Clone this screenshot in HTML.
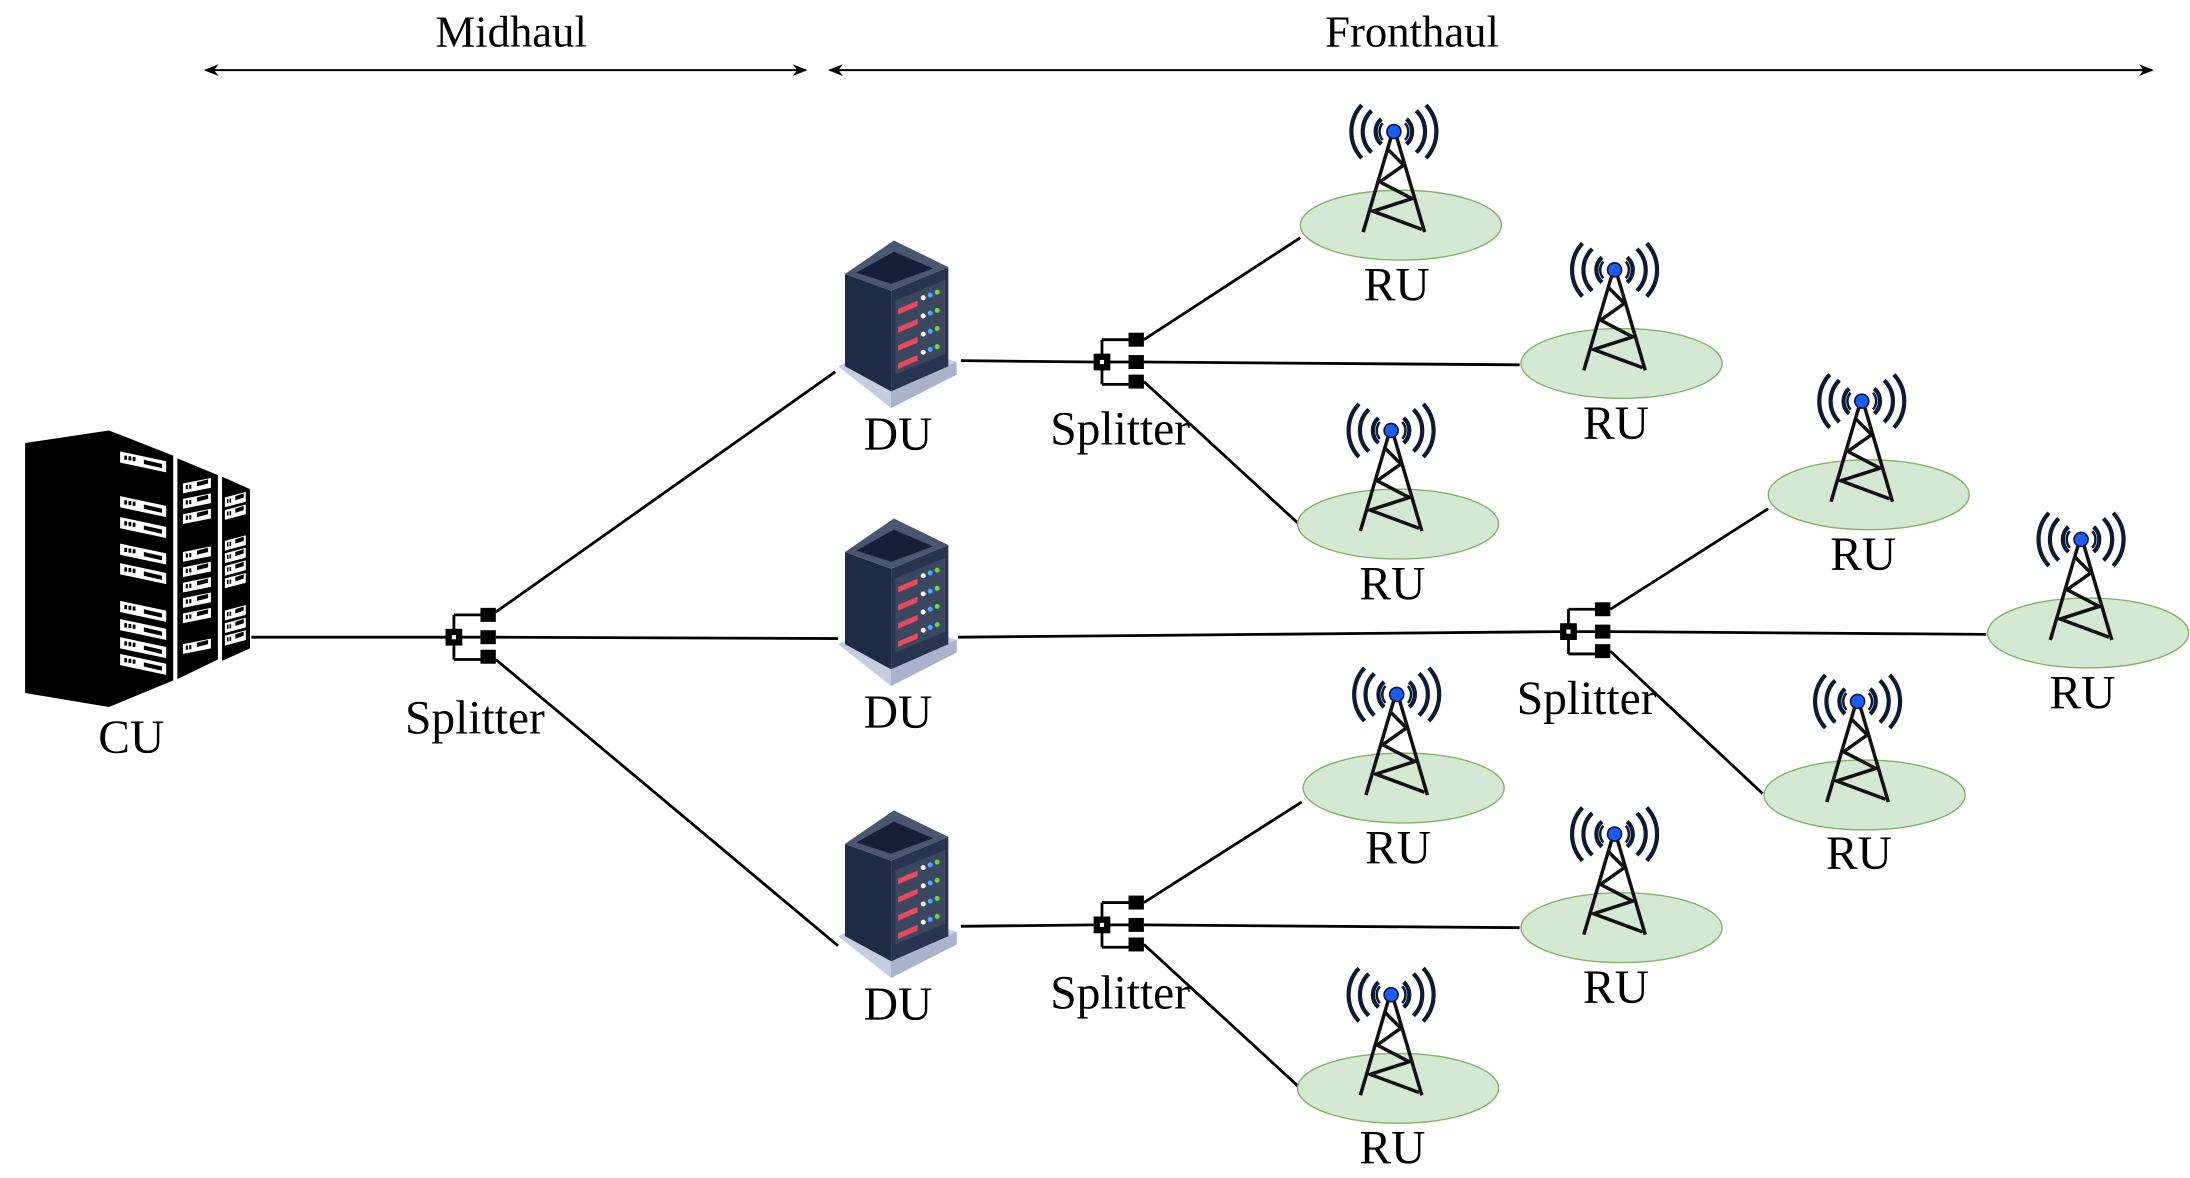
<!DOCTYPE html>
<html><head><meta charset="utf-8"><style>html,body{margin:0;padding:0;background:#fff}svg{display:block}</style></head><body>
<svg width="2190" height="1178" viewBox="0 0 1568 843" xmlns="http://www.w3.org/2000/svg" font-family="Liberation Serif, serif">
<defs>
<marker id="ah" viewBox="0 0 10 10" refX="9" refY="5" markerWidth="7" markerHeight="7" orient="auto-start-reverse"><path d="M0,1 L10,5 L0,9 L3,5 Z" fill="#000"/></marker>
<g id="tower">
 <ellipse cx="5" cy="67" rx="72" ry="25" fill="#d5e8d4" stroke="#82b366" stroke-width="1"/>
 <g fill="none" stroke="#0d1a33" stroke-width="3">
  <path d="M-9,-9 A12,12 0 0 0 -9,9"/><path d="M9,-9 A12,12 0 0 1 9,9"/>
  <path d="M-16,-15 A21,21 0 0 0 -16,15"/><path d="M16,-15 A21,21 0 0 1 16,15"/>
  <path d="M-23,-19 A28,28 0 0 0 -23,19"/><path d="M23,-19 A28,28 0 0 1 23,19"/>
 </g>
 <g fill="none" stroke="#0d1a33" stroke-width="1.8">
  <path d="M-8,-6 A9,9 0 0 0 -8,6"/><path d="M8,-6 A9,9 0 0 1 8,6"/>
 </g>
 <g stroke="#111" stroke-width="2.5" fill="none">
  <path d="M-2,4 L-22,72 M2,4 L22,72"/>
  <path d="M-4,13 L7,24 L-10,36 L13,48 L-15,57 L20,70"/>
 </g>
 <circle cx="0" cy="0" r="5" fill="#1a5cff" stroke="#0d1a33" stroke-width="1.2"/>
</g>
<g id="split">
 <path d="M0,-16 L24,-16 M0,16 L24,16 M0,-16 L0,16 M0,0 L24,0" stroke="#000" stroke-width="2" fill="none"/>
 <rect x="-6" y="-6" width="12" height="12" fill="#000"/>
 <rect x="-1.5" y="-1.5" width="3" height="3" fill="#fff"/>
 <rect x="19" y="-21" width="11" height="10" fill="#000"/>
 <rect x="19" y="-5" width="11" height="10" fill="#000"/>
 <rect x="19" y="9" width="11" height="10" fill="#000"/>
</g>
<g id="du">
 <polygon points="600,262 640,244 685,259 638,292" fill="#c7cde0"/>
 <polygon points="638,280 685,259 685,268 638,292" fill="#aab2cc"/>
 <polygon points="605,196 638,208 638,280 605,262" fill="#1f2a45"/>
 <polygon points="638,208 679,191 679,262 638,280" fill="#28334f"/>
 <polygon points="640,172 679,191 638,208 605,196" fill="#4b5670"/>
 <polygon points="640,180 668,192 638,203 613,195" fill="#171f36"/>
 <g>
  <polygon points="641,215 677,200 677,214 641,229" fill="#3b465f"/>
  <polygon points="643,221 657,215 657,219 643,225" fill="#e8495f"/>
  <circle cx="661" cy="213" r="1.8" fill="#fff"/><circle cx="666" cy="211" r="1.8" fill="#4fa7ff"/><circle cx="671" cy="209" r="1.8" fill="#6cd64a"/>
 </g>
 <g transform="translate(0,13)">
  <polygon points="641,215 677,200 677,214 641,229" fill="#3b465f"/>
  <polygon points="643,221 657,215 657,219 643,225" fill="#e8495f"/>
  <circle cx="661" cy="213" r="1.8" fill="#fff"/><circle cx="666" cy="211" r="1.8" fill="#4fa7ff"/><circle cx="671" cy="209" r="1.8" fill="#6cd64a"/>
 </g>
 <g transform="translate(0,26)">
  <polygon points="641,215 677,200 677,214 641,229" fill="#3b465f"/>
  <polygon points="643,221 657,215 657,219 643,225" fill="#e8495f"/>
  <circle cx="661" cy="213" r="1.8" fill="#fff"/><circle cx="666" cy="211" r="1.8" fill="#4fa7ff"/><circle cx="671" cy="209" r="1.8" fill="#6cd64a"/>
 </g>
 <g transform="translate(0,39)">
  <polygon points="641,215 677,200 677,214 641,229" fill="#3b465f"/>
  <polygon points="643,221 657,215 657,219 643,225" fill="#e8495f"/>
  <circle cx="661" cy="213" r="1.8" fill="#fff"/><circle cx="666" cy="211" r="1.8" fill="#4fa7ff"/><circle cx="671" cy="209" r="1.8" fill="#6cd64a"/>
 </g>
</g>
<g id="slotb"><polygon points="0,0 33,7 33,15 0,8" fill="#fff"/><rect x="3" y="3" width="2" height="3" fill="#000"/><rect x="6" y="3.5" width="2" height="3" fill="#000"/><rect x="9" y="4" width="2" height="3" fill="#000"/><polygon points="17,6 30,9 30,12 17,9" fill="#000"/></g>
<g id="slotm"><polygon points="0,0 20,-4 20,3 0,7" fill="#fff"/><rect x="2" y="1" width="1.5" height="3" fill="#000"/><rect x="4.5" y="0.7" width="1.5" height="3" fill="#000"/><polygon points="10,-1 18,-3 18,0 10,2" fill="#000"/></g>
</defs>

<!-- top arrows -->
<line x1="147" y1="50" x2="577" y2="50" stroke="#000" stroke-width="1.5" marker-start="url(#ah)" marker-end="url(#ah)"/>
<line x1="594" y1="50" x2="1541" y2="50" stroke="#000" stroke-width="1.5" marker-start="url(#ah)" marker-end="url(#ah)"/>
<text x="366" y="33" font-size="32" text-anchor="middle">Midhaul</text>
<text x="1011" y="33" font-size="32" text-anchor="middle">Fronthaul</text>

<!-- lines -->
<g stroke="#000" stroke-width="2" fill="none">
 <path d="M180,456 L320,456"/>
 <path d="M355,438 L598,266 M355,456 L600,457 M355,472 L600,677"/>
 <path d="M688,258 L783,259"/>
 <path d="M819,243 L931,170 M819,259 L1088,261 M819,273 L930,375"/>
 <path d="M686,456 L1117,452"/>
 <path d="M1153,436 L1266,364 M1153,452 L1422,454 M1153,466 L1262,568"/>
 <path d="M688,663 L783,662"/>
 <path d="M819,646 L932,574 M819,662 L1088,664 M819,676 L930,778"/>
</g>

<!-- CU -->
<polygon points="18,317 78,308 124,326 124,487 78,506 18,496" fill="#000"/>
<polygon points="127,328 156,340 156,472 127,486" fill="#000"/>
<polygon points="159,341 179,350 179,464 159,473" fill="#000"/>
<use href="#slotb" x="86" y="323"/>
<use href="#slotb" x="86" y="355"/>
<use href="#slotb" x="86" y="370"/>
<use href="#slotb" x="86" y="389"/>
<use href="#slotb" x="86" y="403"/>
<use href="#slotb" x="86" y="430"/>
<use href="#slotb" x="86" y="443"/>
<use href="#slotb" x="86" y="456"/>
<use href="#slotb" x="86" y="470" transform="translate(0,-2)"/>
<use href="#slotm" x="131" y="346"/>
<use href="#slotm" x="131" y="357"/>
<use href="#slotm" x="131" y="368"/>
<use href="#slotm" x="131" y="395"/>
<use href="#slotm" x="131" y="406"/>
<use href="#slotm" x="131" y="417"/>
<use href="#slotm" x="131" y="428"/>
<use href="#slotm" x="131" y="439"/>
<use href="#slotm" x="131" y="461"/>
<g transform="translate(161,0) scale(0.75,1)">
<use href="#slotm" x="0" y="356"/><use href="#slotm" x="0" y="365"/>
<use href="#slotm" x="0" y="387"/><use href="#slotm" x="0" y="396"/><use href="#slotm" x="0" y="405"/><use href="#slotm" x="0" y="414"/>
<use href="#slotm" x="0" y="437"/><use href="#slotm" x="0" y="446"/><use href="#slotm" x="0" y="455"/>
</g>
<text x="94" y="539" font-size="34" text-anchor="middle">CU</text>

<!-- splitters -->
<use href="#split" x="325" y="456"/>
<use href="#split" x="789" y="259"/>
<use href="#split" x="1123" y="452"/>
<use href="#split" x="789" y="662"/>
<g font-size="34" text-anchor="middle">
<text x="340" y="525">Splitter</text>
<text x="802" y="318">Splitter</text>
<text x="1136" y="511">Splitter</text>
<text x="802" y="722">Splitter</text>
</g>

<!-- DUs -->
<use href="#du"/>
<use href="#du" y="199"/>
<use href="#du" y="408"/>
<g font-size="34" text-anchor="middle">
<text x="643" y="322">DU</text>
<text x="643" y="521">DU</text>
<text x="643" y="730">DU</text>
</g>

<!-- towers -->
<use href="#tower" x="998" y="94"/>
<use href="#tower" x="1156" y="193"/>
<use href="#tower" x="996" y="308"/>
<use href="#tower" x="1333" y="287"/>
<use href="#tower" x="1490" y="386"/>
<use href="#tower" x="1330" y="502"/>
<use href="#tower" x="1000" y="497"/>
<use href="#tower" x="1156" y="597"/>
<use href="#tower" x="996" y="712"/>
<g font-size="34" text-anchor="middle">
<text x="1000" y="215">RU</text>
<text x="1157" y="314">RU</text>
<text x="997" y="429">RU</text>
<text x="1334" y="408">RU</text>
<text x="1491" y="507">RU</text>
<text x="1331" y="622">RU</text>
<text x="1001" y="618">RU</text>
<text x="1157" y="718">RU</text>
<text x="997" y="833">RU</text>
</g>
</svg>
</body></html>
